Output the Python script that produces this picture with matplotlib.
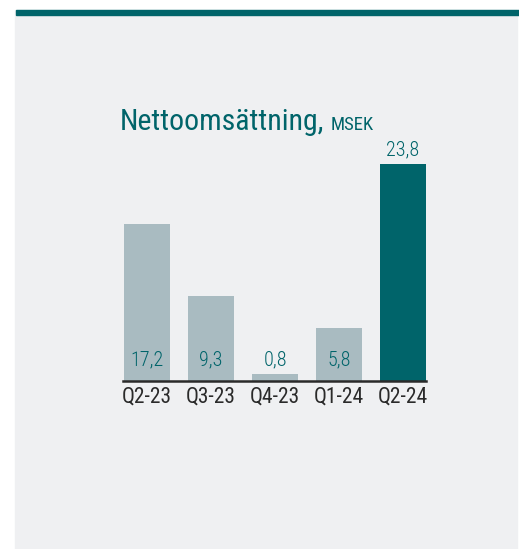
import matplotlib
matplotlib.use("Agg")
import matplotlib.pyplot as plt
from matplotlib.patches import Rectangle
from matplotlib import font_manager as fm

categories = ["Q2-23", "Q3-23", "Q4-23", "Q1-24", "Q2-24"]
values = [17.2, 9.3, 0.8, 5.8, 23.8]
value_labels = ["17,2", "9,3", "0,8", "5,8", "23,8"]

TEAL = "#00646a"
GRAY = "#a9bbc1"
BG = "#eff0f2"
DARK = "#2a2a2a"

avail = {f.name for f in fm.fontManager.ttflist}
fam = [f for f in ["Roboto Condensed", "Liberation Sans Narrow", "Roboto", "DejaVu Sans"] if f in avail]
plt.rcParams["font.family"] = fam

W, H = 519, 549
fig = plt.figure(figsize=(W / 100, H / 100), dpi=100, facecolor="white")

# panel background and top stripe
fig.patches.append(Rectangle((15 / W, 0), (517 - 15) / W, (H - 10) / H,
                             transform=fig.transFigure, color=BG, zorder=-2))
fig.patches.append(Rectangle((16 / W, (H - 15) / H), (519 - 16) / W, 5 / H,
                             transform=fig.transFigure, color=TEAL, zorder=-1))

ax_left, ax_bottom = 122.7, H - 381
ax_w, ax_h = 303.4, 26 * 9.12
ax = fig.add_axes([ax_left / W, ax_bottom / H, ax_w / W, ax_h / H])
ax.set_facecolor("none")
ax.set_zorder(3)

x = list(range(len(categories)))
colors = [GRAY] * (len(values) - 1) + [TEAL]
ax.bar(x, values, width=0.72, color=colors, zorder=2)
ax.set_xlim(-0.38, 4.36)
ax.set_ylim(0, 26)

for i, (v, lab) in enumerate(zip(values, value_labels)):
    if i == len(values) - 1:
        ax.annotate(lab, (i, v), xytext=(0, 3), textcoords="offset points",
                    ha="center", va="bottom", color=TEAL, fontsize=14.5,
                    fontweight="light")
    else:
        ax.annotate(lab, (i, 0), xytext=(0, 15), textcoords="offset points",
                    ha="center", va="center", color=TEAL, fontsize=14.5,
                    fontweight="light")

for s in ["top", "right", "left"]:
    ax.spines[s].set_visible(False)
ax.spines["bottom"].set_color(DARK)
ax.spines["bottom"].set_linewidth(1.8)
ax.set_yticks([])
ax.set_xticks(x)
ax.set_xticklabels(categories, fontsize=15.5, color=DARK)
ax.tick_params(axis="x", length=0, pad=4)

t1 = fig.text(120 / W, (H - 130) / H, "Nettoomsättning,", fontsize=21.5, color=TEAL,
              ha="left", va="baseline")
fig.canvas.draw()
bb = t1.get_window_extent(fig.canvas.get_renderer())
fig.text((bb.x1 + 6) / W, (H - 130) / H, "MSEK", fontsize=13.5, color=TEAL,
         ha="left", va="baseline")

fig.savefig("out.png", dpi=100, facecolor="white")
